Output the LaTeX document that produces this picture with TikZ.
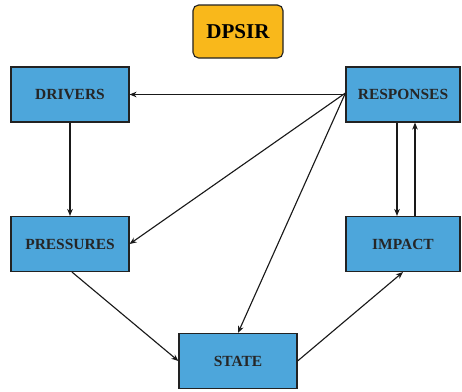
\documentclass[tikz,border=0pt]{standalone}
\usepackage{fontspec}
\setmainfont{Liberation Serif}
\usepackage{xcolor}
\usepackage{tikz}
\usetikzlibrary{positioning, arrows.meta, calc}
\definecolor{boxblue}{HTML}{4DA6DB}
\definecolor{titlegold}{HTML}{F9B81B}
\definecolor{edge}{HTML}{222222}
\tikzset{
  dpsir box/.style={
    draw=edge, line width=0.8pt, fill=boxblue,
    minimum width=2.95cm, minimum height=1.375cm,
    align=center, font=\fontsize{11}{13}\selectfont\bfseries,
    text=black!85
  },
  title box/.style={
    draw=edge, line width=0.8pt, fill=titlegold,
    rounded corners=4pt,
    minimum width=2.25cm, minimum height=1.325cm,
    font=\fontsize{15}{18}\selectfont\bfseries
  },
  link/.style={
    -{Stealth[length=5pt, width=4pt]},
    line width=0.8pt, color=black!90
  }
}

\begin{document}
\begin{tikzpicture}[x=0.025cm, y=-0.025cm]
  \useasboundingbox (0, 0) rectangle (462, 391);

  % Title
  \node[title box] (title) at (238, 31.5) {DPSIR};

  % Boxes
  \node[dpsir box] (drivers) at (70, 94.5) {DRIVERS};
  \node[dpsir box] (pressures) at (70, 244) {PRESSURES};
  \node[dpsir box] (state) at (238, 361) {STATE};
  \node[dpsir box, minimum width=2.85cm] (responses) at (403, 94.5) {RESPONSES};
  \node[dpsir box, minimum width=2.85cm] (impact) at (403, 244) {IMPACT};

  % Arrows
  \coordinate (hub) at ($(responses.west)+(0, -1.5)$);
  \draw[link] (responses.west) -- (drivers.east);
  \draw[link] (drivers.south) -- (pressures.north);
  \draw[link] (hub) -- (pressures.east);
  \draw[link] (hub) -- (state.north);
  \draw[link] ($(pressures.south)+(2, 0)$) -- (state.west);
  \draw[link] (state.east) -- (impact.south);
  \draw[link] ($(responses.south)+(-6, 0)$) -- ($(impact.north)+(-6, 0)$);
  \draw[link] ($(impact.north)+(12, 0)$) -- ($(responses.south)+(12, 0)$);
\end{tikzpicture}
\end{document}
